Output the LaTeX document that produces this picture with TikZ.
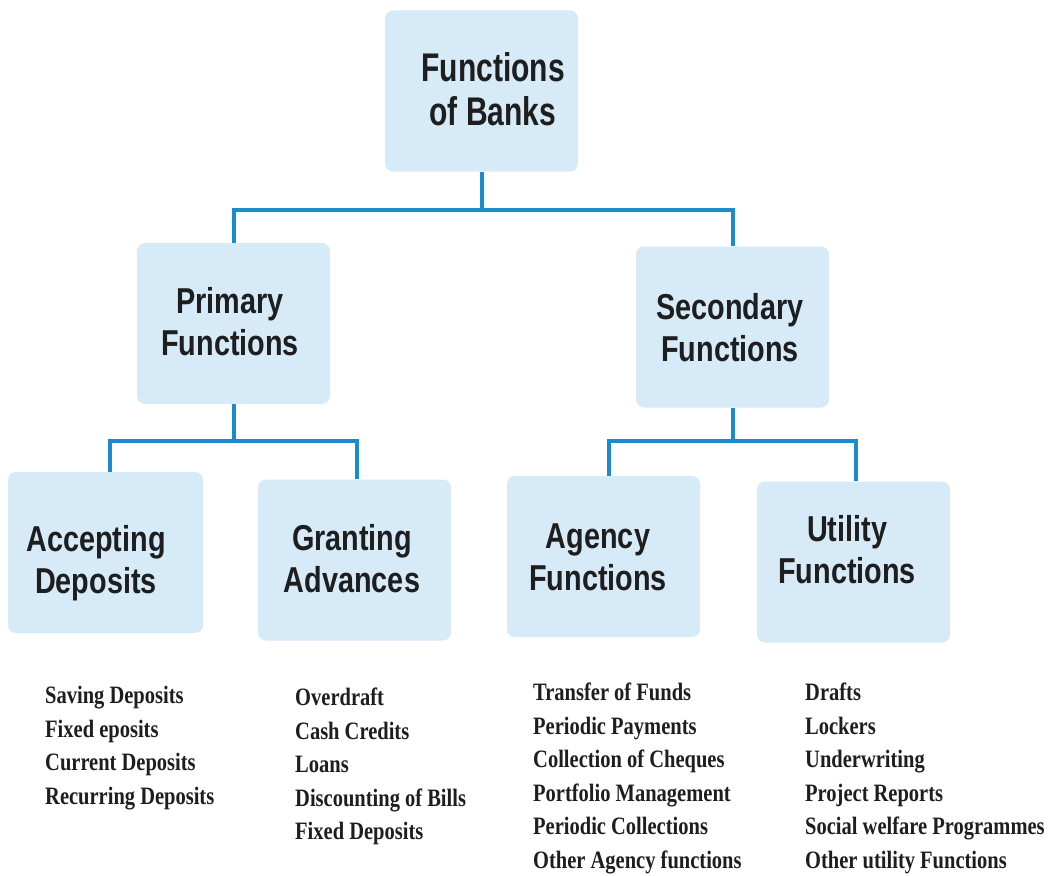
\documentclass[tikz,border=0pt]{standalone}
\usepackage{fontspec}
\setmainfont{Liberation Sans}
\newfontfamily\boxfont{Liberation Sans}[FakeStretch=0.8]
\newfontfamily\topfont{Liberation Sans}[FakeStretch=0.75]
\newfontfamily\listfont{Liberation Serif}[FakeStretch=0.82]
\usetikzlibrary{calc}
\definecolor{boxfill}{HTML}{D6EAF8}
\definecolor{linecol}{HTML}{1A8BCB}
\definecolor{txt}{HTML}{1E1E1E}
\tikzset{
  box/.style={fill=boxfill, draw=none, rounded corners=8pt, minimum width=193pt, minimum height=161pt, inner sep=0pt},
  boxtext/.style={anchor=north, inner sep=0pt, align=center, text=txt, font=\boxfont\bfseries\fontsize{36}{42}\selectfont},
  toptext/.style={boxtext, font=\topfont\bfseries\fontsize{40}{44}\selectfont},
  listtext/.style={anchor=north west, inner sep=0pt, align=left, text=txt, font=\listfont\bfseries\fontsize{25}{33.5}\selectfont},
  conn/.style={draw=linecol, line width=4pt},
}
\begin{document}
\begin{tikzpicture}[x=1pt, y=-1pt]
\useasboundingbox (0,0) rectangle (1048,875);
% boxes
\node[box] (top)  at (481.5, 91)  {};
\node[box] (prim) at (233.5, 323.5) {};
\node[box] (sec)  at (732.5, 327) {};
\node[box, minimum width=195pt] (acc)  at (105.5, 552.5) {};
\node[box] (gra)  at (354.5, 560) {};
\node[box] (age)  at (603.5, 556.5) {};
\node[box] (uti)  at (853.5, 562) {};
% box texts
\node[toptext] (topt) at (493, 52) {Functions\\of Banks};
\node[boxtext] (primt) at (230, 287) {Primary\\Functions};
\node[boxtext] (sect) at (730, 293) {Secondary\\Functions};
\node[boxtext] (acct) at (96, 525) {Accepting\\Deposits};
\node[boxtext] (grat) at (352, 524) {Granting\\Advances};
\node[boxtext] (aget) at (598, 524) {Agency\\Functions};
\node[boxtext] (utit) at (847, 515) {Utility\\Functions};
% connectors
\coordinate (j0) at (481.5, 210);
\draw[conn] (top.south) -- (j0);
\draw[conn] (prim.north) |- (j0) -| (sec.north);
\coordinate (j1) at (233.5, 441);
\draw[conn] (prim.south) -- (j1);
\draw[conn] ($(acc.north)+(4.5,0)$) |- (j1) -| ($(gra.north)+(2.5,0)$);
\coordinate (j2) at (732.5, 441);
\draw[conn] (sec.south) -- (j2);
\draw[conn] ($(age.north)+(5,0)$) |- (j2) -| ($(uti.north)+(2.5,0)$);
% lists
\node[listtext] (accl) at (45, 686) {Saving Deposits\\Fixed eposits\\Current Deposits\\Recurring Deposits};
\node[listtext] (gral) at (295, 688) {Overdraft\\Cash Credits\\Loans\\Discounting of Bills\\Fixed Deposits};
\node[listtext] (agel) at (533, 683) {Transfer of Funds\\Periodic Payments\\Collection of Cheques\\Portfolio Management\\Periodic Collections\\Other Agency functions};
\node[listtext] (util) at (805, 683) {Drafts\\Lockers\\Underwriting\\Project Reports\\Social welfare Programmes\\Other utility Functions};
\end{tikzpicture}
\end{document}
